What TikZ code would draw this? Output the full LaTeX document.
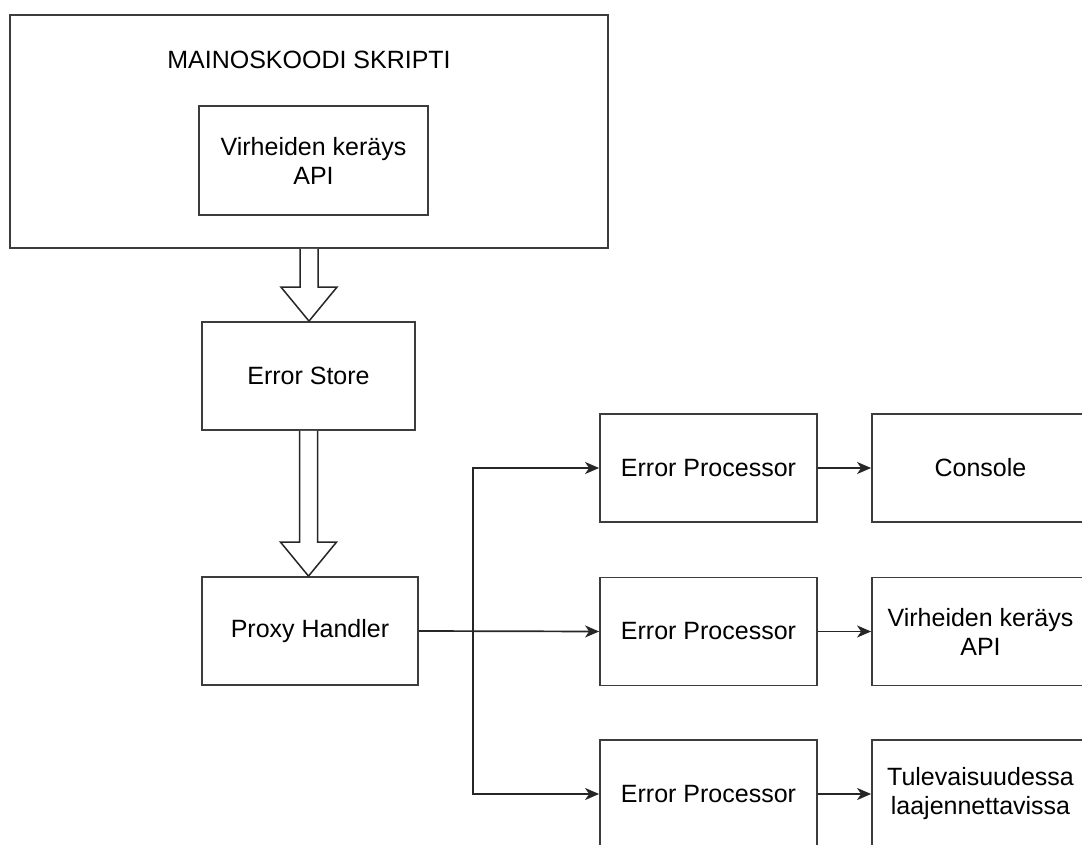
\documentclass[tikz,border=0pt]{standalone}
\usepackage{fontspec}
\setmainfont{Liberation Sans}
\definecolor{lineg}{RGB}{60,60,60}
\usetikzlibrary{arrows.meta,positioning,calc}

\newcommand{\fatarrow}[2]{%
  \draw[fatline] let \p1=(#1.south), \p2=(#2.north) in
    (\x1-9pt,\y1) -- (\x1-9pt,\y2+34pt) -- (\x1-28pt,\y2+34pt) -- (\x1,\y2)
    -- (\x1+28pt,\y2+34pt) -- (\x1+9pt,\y2+34pt) -- (\x1+9pt,\y1);
}

\begin{document}
\begin{tikzpicture}[
  x=1pt, y=-1pt,
  every node/.style={font=\fontsize{25}{29}\selectfont},
  procbox/.style={draw=lineg,line width=1.8pt,minimum width=217pt,minimum height=108pt,
                  align=center,inner sep=4pt},
  fatline/.style={draw=black!85,line width=1.5pt,fill=white,line join=miter},
  link/.style={draw=black!85,line width=1.7pt,-{Stealth[length=14pt,width=12pt,inset=4pt]}},
]
  \useasboundingbox (0,0) rectangle (1082,845);
  % Script
  \node[procbox,minimum width=598pt,minimum height=233pt] (script) at (309,131.5) {};
  \node (title) at (309,60) {MAINOSKOODI SKRIPTI};
  \node[procbox,minimum width=229pt,minimum height=109pt] (api) at (313.5,160.5)
    {Virheiden keräys\\API};
  % Store and proxy
  \node[procbox,minimum width=213pt] (store) at (308.5,376) {Error Store};
  \node[procbox,minimum width=216pt] (proxy) at (310,631) {Proxy Handler};
  \fatarrow{script}{store}
  \fatarrow{store}{proxy}
  % Processors
  \node[procbox] (proc1) at (708.5,468) {Error Processor};
  \node[procbox] (proc2) at (708.5,631.5) {Error Processor};
  \node[procbox] (proc3) at (708.5,794) {Error Processor};
  % Targets
  \node[procbox] (console) at (980.5,468) {Console};
  \node[procbox] (collect) at (980.5,631.5) {Virheiden keräys\\API};
  \node[procbox] (future) at (980.5,794) {Tulevaisuudessa\\laajennettavissa};
  % Links
  \coordinate (split) at ($(proxy.east)!.3!(proc2.west)$);
  \draw[link] (proxy.east) -- (proc2.west);
  \draw[link] (split) |- (proc1.west);
  \draw[link] (split) |- (proc3.west);
  \draw[link] (proc1) -- (console);
  \draw[link] (proc2) -- (collect);
  \draw[link] (proc3) -- (future);
\end{tikzpicture}
\end{document}
